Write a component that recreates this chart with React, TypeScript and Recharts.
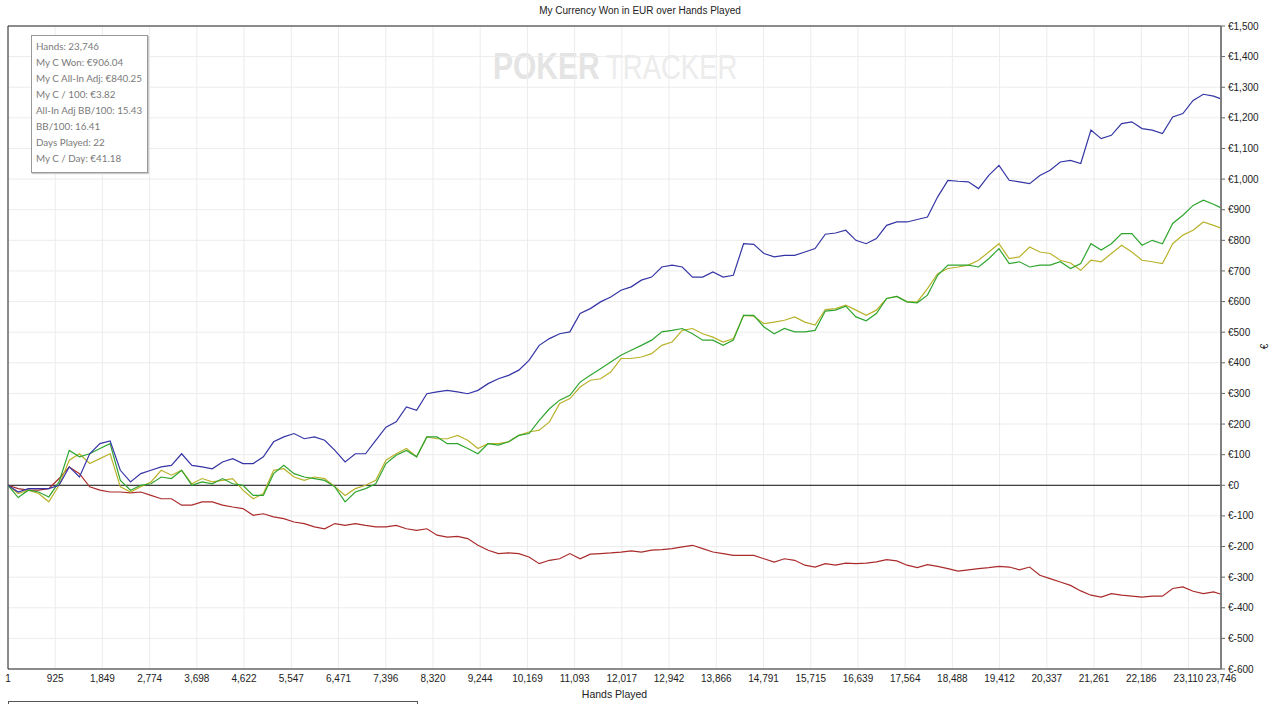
import {
  LineChart,
  Line,
  XAxis,
  YAxis,
  CartesianGrid,
  ReferenceLine,
} from "recharts";

// hands played (x samples)
const hands = [
  1, 200, 400, 600, 800, 1000, 1200, 1400, 1600, 1800, 2000, 2200, 2400, 2600, 2800, 3000, 3200, 3400, 3600, 3800,
  4000, 4200, 4400, 4600, 4800, 5000, 5200, 5400, 5600, 5800, 6000, 6200, 6400, 6600, 6800, 7000, 7200, 7400, 7600,
  7800, 8000, 8200, 8400, 8600, 8800, 9000, 9200, 9400, 9600, 9800, 10000, 10200, 10400, 10600, 10800, 11000, 11200,
  11400, 11600, 11800, 12000, 12200, 12400, 12600, 12800, 13000, 13200, 13400, 13600, 13800, 14000, 14200, 14400,
  14600, 14800, 15000, 15200, 15400, 15600, 15800, 16000, 16200, 16400, 16600, 16800, 17000, 17200, 17400, 17600,
  17800, 18000, 18200, 18400, 18600, 18800, 19000, 19200, 19400, 19600, 19800, 20000, 20200, 20400, 20600, 20800,
  21000, 21200, 21400, 21600, 21800, 22000, 22200, 22400, 22600, 22800, 23000, 23200, 23400, 23600, 23746,
];

// won without showdown (blue)
const nonShowdown = [
  0, -22, -11, -11, -11, 0, 60, 27, 103, 136, 145, 49, 11, 38, 49, 60, 65, 103, 65, 60, 54, 76, 87, 71, 71, 93, 142,
  158, 169, 152, 158, 147, 114, 76, 103, 103, 147, 190, 207,
  256, 245, 299, 305, 310, 305, 299, 310, 332, 348, 359, 376, 408, 457, 479, 495, 501, 561, 577, 599, 615, 637, 648,
  670, 680, 713, 719, 713, 680, 680, 697, 680, 686, 789, 787, 757, 746, 751, 751, 762, 773,
  820, 824, 833, 800, 789, 806, 849, 860, 860, 868, 876, 942, 996, 993, 991, 969, 1012, 1045, 996, 991, 985, 1012,
  1029, 1056, 1061, 1051, 1160, 1132, 1143, 1181, 1187, 1165, 1160, 1149, 1203, 1214, 1257, 1277, 1271, 1262,
];

// my c won (green)
const won = [
  0, -40, -16, -22, -38, 11, 114, 93, 103, 120, 136, 16, -16, 0, 5, 27, 22, 49, 0, 11, 5, 22, 5, 0, -33, -33, 38, 65,
  38, 27, 22, 16, -5, -54, -22, -11, 5, 71, 98,
  114, 93, 158, 158, 136, 136, 120, 103, 136, 131, 142, 163, 169, 212, 250, 278, 294, 337, 359, 381, 403, 425, 441,
  457, 474, 501, 506, 512, 495, 474, 474, 457, 474, 555, 555, 517, 495, 512, 501, 501, 506,
  569, 572, 585, 550, 537, 561, 610, 617, 599, 596, 621, 686, 719, 719, 719, 713, 740, 773, 724, 730, 713, 719, 719,
  730, 708, 724, 789, 768, 789, 822, 822, 784, 800, 789, 855, 882, 914, 931, 918, 906,
];

// all-in adjusted (yellow)
const allInAdj = [
  0, -27, -16, -27, -54, 0, 82, 103, 71, 87, 103, -5, -22, -5, 11, 49, 33, 49, 5, 22, 11, 16, 22, -16, -44, -27, 49,
  54, 27, 16, 27, 22, -5, -33, -11, 0, 16, 82, 103,
  120, 93, 158, 152, 152, 163, 147, 120, 136, 136, 142, 163, 174, 180, 207, 267, 283, 321, 343, 348, 370, 414, 414,
  419, 430, 457, 468, 506, 512, 495, 484, 468, 479, 555, 552, 528, 533, 539, 550, 533, 523,
  574, 577, 588, 572, 555, 572, 610, 617, 599, 599, 642, 691, 708, 713, 719, 735, 762, 789, 740, 746, 778, 762, 757,
  735, 726, 702, 735, 730, 757, 784, 762, 735, 730, 724, 789, 817, 833, 860, 849, 840,
];

// won at showdown (red)
const showdown = [
  0, -11, -16, -16, -11, 22, 60, 38, -5, -16, -22, -22, -25, -22, -33, -44, -44, -65, -65, -54, -54, -65, -71, -76,
  -98, -93, -103, -109, -120, -125, -136, -142, -125, -131, -125, -131, -136, -136, -131,
  -142, -147, -142, -163, -169, -167, -174, -196, -212, -223, -221, -223, -234, -256, -245, -240, -223, -240, -225,
  -223, -221, -218, -214, -218, -212, -210, -207, -201, -196, -207, -218, -223, -229, -229, -229, -240, -251, -240,
  -245, -261, -267,
  -256, -261, -254, -256, -254, -250, -243, -247, -261, -269, -259, -265, -272, -280, -276, -272, -269, -265, -267,
  -276, -267, -294, -305, -316, -327, -345, -359, -365, -354, -359, -362, -365, -362, -362, -337, -332, -346, -354,
  -348, -356,
];

const xTicks = [
  1, 925, 1849, 2774, 3698, 4622, 5547, 6471, 7396, 8320, 9244, 10169, 11093, 12017, 12942, 13866, 14791, 15715,
  16639, 17564, 18488, 19412, 20337, 21261, 22186, 23110, 23746,
];

const yTicks = [-600, -500, -400, -300, -200, -100, 0, 100, 200, 300, 400, 500, 600, 700, 800, 900, 1000, 1100, 1200, 1300, 1400, 1500];

const stats = [
  "Hands: 23,746",
  "My C Won: €906.04",
  "My C All-In Adj: €840.25",
  "My C / 100: €3.82",
  "All-In Adj BB/100: 15.43",
  "BB/100: 16.41",
  "Days Played: 22",
  "My C / Day: €41.18",
];

const data = hands.map((h, i) => ({
  hand: h,
  blue: nonShowdown[i],
  green: won[i],
  yellow: allInAdj[i],
  red: showdown[i],
}));

const font = "'Liberation Sans', Arial, sans-serif";
const tickStyle = { fontSize: 10, fill: "#222", fontFamily: font };

const euro = (v: number) => (v < 0 ? `€-${Math.abs(v)}` : `€${v.toLocaleString("en-US")}`);

export default function App() {
  return (
    <div style={{ position: "fixed", left: 0, top: 0, width: 1280, height: 704, background: "#fff", overflow: "hidden" }}>
      {/* watermark */}
      <svg style={{ position: "absolute", left: 0, top: 0 }} width={1280} height={704}>
        <g transform="translate(493 79) scale(1 1.2)">
          <text x={0} y={0} fontSize={30} fontWeight="bold" fill="#e4e4e4" fontFamily={font}>
            POKER
          </text>
        </g>
        <g transform="translate(606 79) scale(1 1.3)">
          <text x={0} y={0} fontSize={27.5} fill="#ececec" fontFamily={font}>
            TRACKER
          </text>
        </g>
      </svg>

      <div style={{ position: "absolute", left: 0, top: 0 }}>
        <LineChart width={1280} height={704} data={data} margin={{ top: 26, left: 8, right: 0, bottom: 0 }}>
          <CartesianGrid stroke="#ececec" />
          <XAxis
            dataKey="hand"
            type="number"
            domain={[1, 23746]}
            ticks={xTicks}
            interval={0}
            height={35}
            tick={tickStyle}
            tickFormatter={(v: number) => v.toLocaleString("en-US")}
            tickLine={false}
            tickSize={4}
            tickMargin={2}
            axisLine={{ stroke: "#222" }}
            label={{ value: "Hands Played", position: "insideBottom", offset: 6, fontSize: 10.5, fill: "#222", fontFamily: font }}
          />
          <YAxis
            orientation="right"
            type="number"
            domain={[-600, 1500]}
            ticks={yTicks}
            interval={0}
            width={59}
            tick={tickStyle}
            tickFormatter={euro}
            tickSize={4}
            tickMargin={3}
            tickLine={{ stroke: "#666" }}
            axisLine={{ stroke: "#808080", strokeWidth: 2 }}
          />
          <ReferenceLine y={1500} stroke="#222" />
          <ReferenceLine x={1} stroke="#222" />
          <ReferenceLine y={0} stroke="#111" />
          <Line type="linear" dataKey="red" stroke="#aa2b2b" strokeWidth={1.2} dot={false} isAnimationActive={false} />
          <Line type="linear" dataKey="yellow" stroke="#b9b22c" strokeWidth={1.2} dot={false} isAnimationActive={false} />
          <Line type="linear" dataKey="green" stroke="#2fa52f" strokeWidth={1.2} dot={false} isAnimationActive={false} />
          <Line type="linear" dataKey="blue" stroke="#3535a6" strokeWidth={1.2} dot={false} isAnimationActive={false} />
        </LineChart>
      </div>

      {/* title */}
      <div style={{ position: "absolute", left: 0, top: 5, width: 1280, textAlign: "center", fontFamily: font, fontSize: 10, color: "#222" }}>
        My Currency Won in EUR over Hands Played
      </div>

      {/* y axis label */}
      <div style={{ position: "absolute", left: 1262, top: 341, fontFamily: font, fontSize: 10, color: "#222", transform: "rotate(-90deg)" }}>
        €
      </div>

      {/* stats box */}
      <div
        style={{
          position: "absolute",
          left: 31,
          top: 35,
          width: 117,
          height: 138,
          border: "1px solid #999",
          boxShadow: "1px 1px 1px #ccc",
          background: "#fff",
          fontFamily: "Lato, sans-serif",
          fontSize: 9.8,
          color: "#7a7a7a",
          padding: "2px 0 0 4px",
          boxSizing: "border-box",
          lineHeight: "16px",
          whiteSpace: "nowrap",
        }}
      >
        {stats.map((s) => (
          <div key={s}>{s}</div>
        ))}
      </div>

      {/* clipped legend box edge */}
      <div style={{ position: "absolute", left: 8, top: 701, width: 408, height: 10, border: "1px solid #555" }} />
    </div>
  );
}
